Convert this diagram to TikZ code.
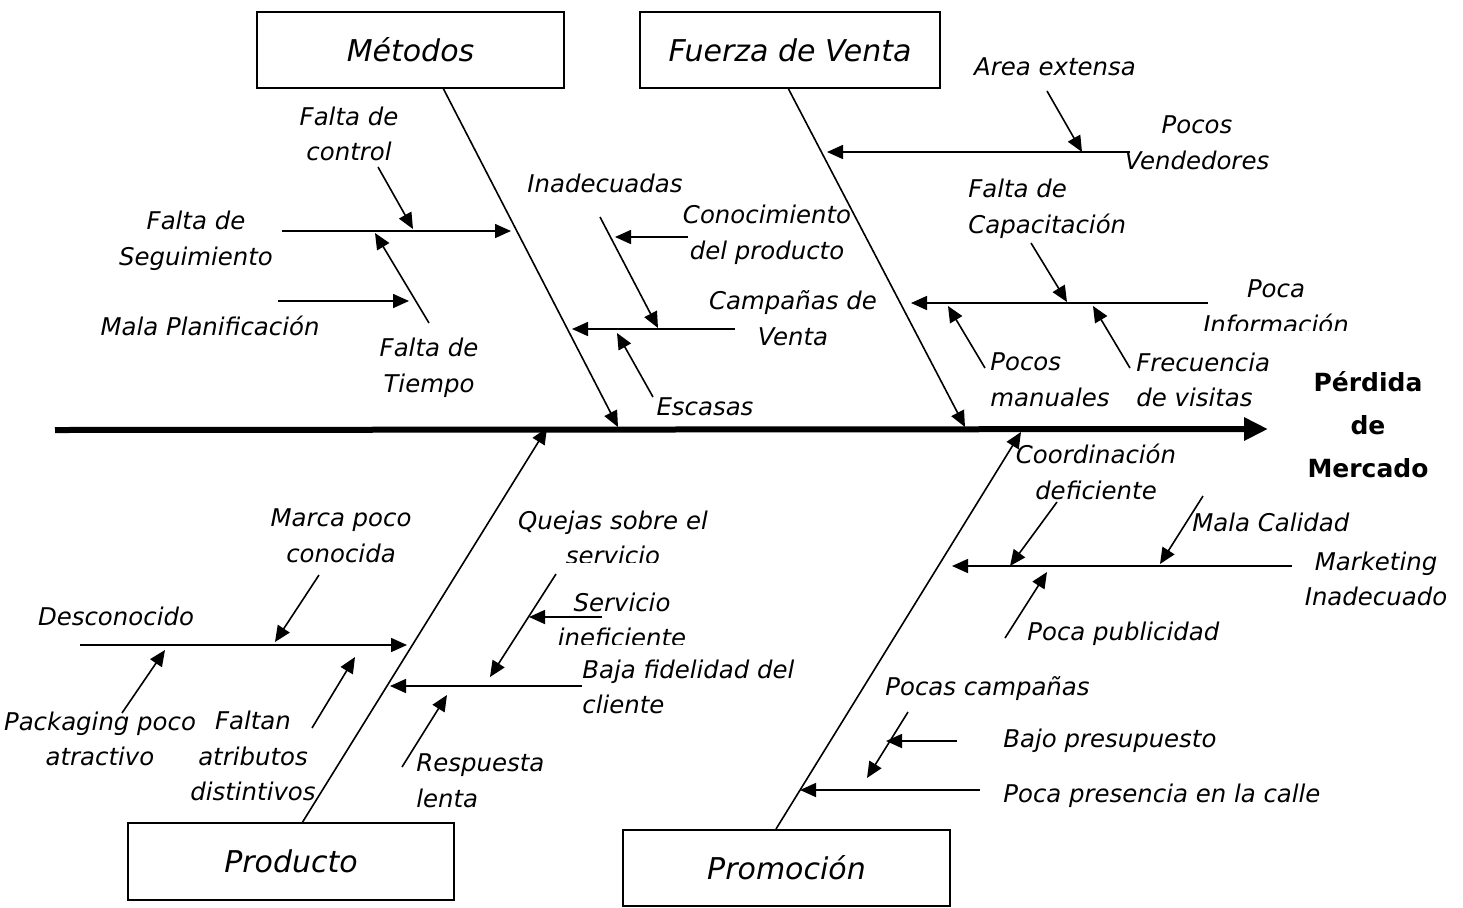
\documentclass[tikz,border=0pt]{standalone}
\usepackage{fontspec}
\setmainfont{DejaVu Sans}
\usetikzlibrary{arrows.meta}
\begin{document}
\begin{tikzpicture}[x=0.5pt,y=-0.5pt,
  lab/.style={font=\fontsize{12.2}{17.8}\selectfont\itshape, inner sep=0pt, align=center},
  labl/.style={lab, align=left, anchor=west},
  box/.style={draw, line width=0.8pt, inner sep=0pt, font=\fontsize{15}{18}\selectfont\itshape},
  bone/.style={line width=0.75pt},
  arr/.style={line width=0.8pt, -{Triangle[length=8pt,width=7pt]}},
  spine/.style={line width=3pt, -{Triangle[length=12pt,width=11pt]}},
  head/.style={font=\fontsize{12.5}{21.5}\selectfont\bfseries, inner sep=0pt, align=center}]
\useasboundingbox (0,0) rectangle (1463,907);

% boxes
\node[box, minimum width=153.5pt, minimum height=38pt] (met) at (410.5,50) {Métodos};
\node[box, minimum width=150pt, minimum height=38pt] (fue) at (790,50) {Fuerza de Venta};
\node[box, minimum width=163pt, minimum height=38.5pt] (pro) at (291,861.5) {Producto};
\node[box, minimum width=163.5pt, minimum height=38pt] (prm) at (786.5,868) {Promoción};
\node[head] (eff) at (1368,425) {Pérdida\\de\\Mercado};

% spine
\coordinate (s0) at (55,430); \coordinate (s1) at (1268,429);
\draw[spine] (s0) -- (s1);

% ---------- Métodos ----------
\coordinate (m0) at (443,88); \coordinate (m1) at (618,427);
\draw[arr] (m0) -- (m1);
\coordinate (fs0) at (282,231); \coordinate (fs1) at (511,231);
\draw[arr] (fs0) -- (fs1);
\coordinate (fc0) at (378,167); \coordinate (fc1) at (413,229);
\draw[arr] (fc0) -- (fc1);
\coordinate (ft0) at (429,323); \coordinate (ft1) at (375,233);
\draw[arr] (ft0) -- (ft1);
\coordinate (mp0) at (278,301); \coordinate (mp1) at (409,301);
\draw[arr] (mp0) -- (mp1);
\coordinate (cv0) at (735,329); \coordinate (cv1) at (572,329);
\draw[arr] (cv0) -- (cv1);
\coordinate (in0) at (600,217); \coordinate (in1) at (658,328);
\draw[arr] (in0) -- (in1);
\coordinate (cp0) at (688,237); \coordinate (cp1) at (615,237);
\draw[arr] (cp0) -- (cp1);
\coordinate (es0) at (653,397); \coordinate (es1) at (617,333);
\draw[arr] (es0) -- (es1);

\node[lab] (tfc) at (349,134) {Falta de\\control};
\node[lab] (tfs) at (196,241) {Falta de\\Seguimiento};
\node[lab] (tmp) at (210,326) {Mala Planificación};
\node[lab] (tft) at (429,368) {Falta de\\Tiempo};
\node[lab] (tin) at (605,183) {Inadecuadas};
\node[lab] (tcp) at (767,235) {Conocimiento\\del producto};
\node[lab] (tcv) at (793,318) {Campañas de\\Venta};
\node[lab] (tes) at (705,407) {Escasas};

% ---------- Fuerza de Venta ----------
\coordinate (f0) at (788,88); \coordinate (f1) at (965,427);
\draw[arr] (f0) -- (f1);
\coordinate (pv0) at (1130,152); \coordinate (pv1) at (827,152);
\draw[arr] (pv0) -- (pv1);
\coordinate (ae0) at (1047,91); \coordinate (ae1) at (1082,152);
\draw[arr] (ae0) -- (ae1);
\coordinate (pi0) at (1208,303); \coordinate (pi1) at (911,303);
\draw[arr] (pi0) -- (pi1);
\coordinate (fk0) at (1031,243); \coordinate (fk1) at (1067,302);
\draw[arr] (fk0) -- (fk1);
\coordinate (pm0) at (985,368); \coordinate (pm1) at (948,306);
\draw[arr] (pm0) -- (pm1);
\coordinate (fv0) at (1130,368); \coordinate (fv1) at (1093,306);
\draw[arr] (fv0) -- (fv1);

\node[lab] (tae) at (1055,67) {Area extensa};
\node[lab] (tpv) at (1197,143) {Pocos\\Vendedores};
\node[labl] (tfk) at (968,209) {Falta de\\Capacitación};
\begin{scope}
  \clip (1150,270) rectangle (1400,330);
  \node[lab] (tpi) at (1276,307) {Poca\\Información};
\end{scope}
\node[labl] (tpm) at (990,380) {Pocos\\manuales};
\node[labl] (tfv) at (1136,380) {Frecuencia\\de visitas};

% ---------- Producto ----------
\coordinate (p0) at (302,823); \coordinate (p1) at (547,428);
\draw[arr] (p0) -- (p1);
\coordinate (de0) at (80,645); \coordinate (de1) at (407,645);
\draw[arr] (de0) -- (de1);
\coordinate (mc0) at (319,575); \coordinate (mc1) at (275,642);
\draw[arr] (mc0) -- (mc1);
\coordinate (pa0) at (122,713); \coordinate (pa1) at (165,650);
\draw[arr] (pa0) -- (pa1);
\coordinate (fa0) at (312,728); \coordinate (fa1) at (355,657);
\draw[arr] (fa0) -- (fa1);
\coordinate (bf0) at (582,686); \coordinate (bf1) at (390,686);
\draw[arr] (bf0) -- (bf1);
\coordinate (qs0) at (556,574); \coordinate (qs1) at (490,677);
\draw[arr] (qs0) -- (qs1);
\coordinate (si0) at (602,617); \coordinate (si1) at (529,617);
\draw[arr] (si0) -- (si1);
\coordinate (rl0) at (402,767); \coordinate (rl1) at (447,695);
\draw[arr] (rl0) -- (rl1);

\node[lab] (tmc) at (341,536) {Marca poco\\conocida};
\node[lab] (tde) at (116,616) {Desconocido};
\node[lab] (tpa) at (100,739) {Packaging poco\\atractivo};
\node[lab] (tfa) at (253,756) {Faltan\\atributos\\distintivos};
\begin{scope}
  \clip (500,490) rectangle (730,562);
  \node[lab] (tqs) at (613,538) {Quejas sobre el\\servicio};
\end{scope}
\begin{scope}
  \clip (550,585) rectangle (700,644);
  \node[lab] (tsi) at (622,620) {Servicio\\ineficiente};
\end{scope}
\node[labl] (tbf) at (582,687) {Baja fidelidad del\\cliente};
\node[labl] (trl) at (416,781) {Respuesta\\lenta};

% ---------- Promoción ----------
\coordinate (r0) at (776,829); \coordinate (r1) at (1021,432);
\draw[arr] (r0) -- (r1);
\coordinate (mi0) at (1292,566); \coordinate (mi1) at (952,566);
\draw[arr] (mi0) -- (mi1);
\coordinate (cd0) at (1057,502); \coordinate (cd1) at (1010,566);
\draw[arr] (cd0) -- (cd1);
\coordinate (ml0) at (1203,496); \coordinate (ml1) at (1160,564);
\draw[arr] (ml0) -- (ml1);
\coordinate (pp0) at (1005,638); \coordinate (pp1) at (1047,572);
\draw[arr] (pp0) -- (pp1);
\coordinate (pc0) at (980,790); \coordinate (pc1) at (800,790);
\draw[arr] (pc0) -- (pc1);
\coordinate (pk0) at (908,712); \coordinate (pk1) at (867,778);
\draw[arr] (pk0) -- (pk1);
\coordinate (bp0) at (957,741); \coordinate (bp1) at (886,741);
\draw[arr] (bp0) -- (bp1);

\node[lab] (tcd) at (1096,472) {Coordinación\\deficiente};
\node[labl] (tml) at (1192,522) {Mala Calidad};
\node[lab] (tmi) at (1376,579) {Marketing\\Inadecuado};
\node[labl] (tpp) at (1027,634) {Poca publicidad};
\node[labl] (tpk) at (885,689) {Pocas campañas};
\node[labl] (tbp) at (1003,741) {Bajo presupuesto};
\node[labl] (tpc) at (1003,796) {Poca presencia en la calle};
\end{tikzpicture}
\end{document}
